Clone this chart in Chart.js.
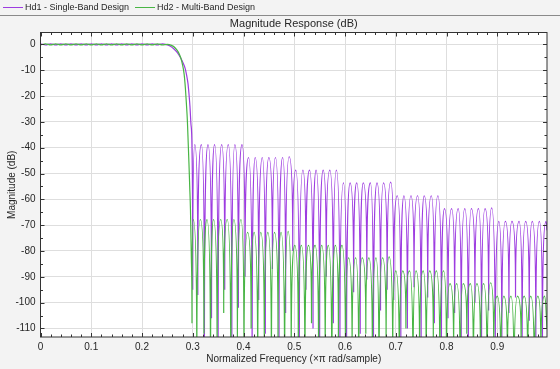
<!DOCTYPE html>
<html>
<head>
<meta charset="utf-8">
<script src="https://cdn.jsdelivr.net/npm/chart.js@4"></script>
<style>
  html, body { margin: 0; padding: 0; background: #f3f3f3; }
  canvas { display: block; }
</style>
</head>
<body>
<canvas id="magChart" width="560" height="369"></canvas>
<script>
// Axis tick labels
const xTicks = [0, 0.1, 0.2, 0.3, 0.4, 0.5, 0.6, 0.7, 0.8, 0.9];
const yTicks = [0, -10, -20, -30, -40, -50, -60, -70, -80, -90, -100, -110];

// Hd1 - passband and transition band
const hd1EdgeFreq = [0, 0.01, 0.02, 0.03, 0.04, 0.05, 0.06, 0.07, 0.08, 0.09, 0.10, 0.11, 0.12,
  0.13, 0.14, 0.15, 0.16, 0.17, 0.18, 0.19, 0.20, 0.21, 0.22, 0.23, 0.24,
  0.248, 0.256, 0.263, 0.270, 0.276, 0.281, 0.285, 0.288, 0.2905, 0.2925, 0.2945, 0.2965, 0.2985];
const hd1EdgeDb = [0.2, -0.2, 0.2, -0.2, 0.2, -0.2, 0.2, -0.2, 0.2, -0.2, 0.2, -0.2, 0.2,
  -0.2, 0.2, -0.2, 0.2, -0.2, 0.2, -0.2, 0.2, -0.2, 0.2, -0.2, 0.2,
  -0.1, -0.7, -1.8, -3.3, -5.2, -7.2, -9.3, -12, -15, -19, -24, -31, -40];

// Hd1 - stopband lobe peaks
const hd1PeakFreq = [
  0.304, 0.317, 0.330, 0.343, 0.357, 0.370, 0.383, 0.397,
  0.410, 0.423, 0.437, 0.450, 0.463, 0.477, 0.490,
  0.503, 0.517, 0.530, 0.543, 0.557, 0.570, 0.583,
  0.597, 0.610, 0.623, 0.636, 0.650, 0.663, 0.676, 0.690,
  0.703, 0.716, 0.730, 0.743, 0.756, 0.770, 0.783,
  0.796, 0.810, 0.823, 0.836, 0.849, 0.863, 0.876, 0.889,
  0.903, 0.916, 0.929, 0.943, 0.956, 0.969, 0.983, 0.996];
const hd1PeakDb = [
  -38.8, -38.8, -38.8, -38.8, -38.8, -38.8, -38.8, -38.8,
  -43.8, -43.8, -43.8, -43.8, -43.8, -43.8, -43.5,
  -48.7, -48.7, -48.7, -48.7, -48.7, -48.7, -48.7,
  -53.6, -53.6, -53.6, -53.6, -53.6, -53.6, -53.6, -53.3,
  -58.6, -58.6, -58.6, -58.6, -58.6, -58.6, -58.6,
  -63.6, -63.6, -63.6, -63.6, -63.6, -63.6, -63.6, -63.3,
  -68.5, -68.5, -68.5, -68.5, -68.5, -68.5, -68.5, -68.5];

// Hd1 - stopband nulls
const hd1NullFreq = [
  0.300, 0.310, 0.323, 0.337, 0.350, 0.363, 0.377, 0.390,
  0.403, 0.417, 0.430, 0.443, 0.457, 0.470, 0.483,
  0.497, 0.510, 0.523, 0.537, 0.550, 0.563, 0.577,
  0.590, 0.603, 0.617, 0.630, 0.643, 0.656, 0.670, 0.683,
  0.696, 0.710, 0.723, 0.736, 0.750, 0.763, 0.776,
  0.790, 0.803, 0.816, 0.829, 0.843, 0.856, 0.869, 0.883,
  0.896, 0.909, 0.923, 0.936, 0.949, 0.963, 0.976, 0.989];
const hd1NullDb = [
  -95, -97, -120, -106, -125, -95, -118, -102,
  -90, -130, -99, -112, -87, -120, -104,
  -80, -125, -95, -110, -118, -90, -108,
  -124, -130, -96, -112, -91, -125, -103, -95,
  -99, -118, -110, -94, -120, -98, -108,
  -116, -106, -104, -118, -125, -100, -122, -103,
  -130, -120, -104, -98, -120, -107, -115, -122];
const hd1End = [0.998, -72];

// Hd2 - passband and transition band
const hd2EdgeFreq = [0, 0.01, 0.02, 0.03, 0.04, 0.05, 0.06, 0.07, 0.08, 0.09, 0.10, 0.11, 0.12,
  0.13, 0.14, 0.15, 0.16, 0.17, 0.18, 0.19, 0.20, 0.21, 0.22, 0.23, 0.24,
  0.250, 0.258, 0.265, 0.271, 0.276, 0.280, 0.283, 0.2855, 0.2875, 0.2895, 0.291, 0.2925, 0.294, 0.2955, 0.297];
const hd2EdgeDb = [-0.2, 0.2, -0.2, 0.2, -0.2, 0.2, -0.2, 0.2, -0.2, 0.2, -0.2, 0.2, -0.2,
  0.2, -0.2, 0.2, -0.2, 0.2, -0.2, 0.2, -0.2, 0.2, -0.2, 0.2, -0.2,
  0.0, -0.4, -1.3, -2.8, -5.0, -8.0, -11.5, -17, -23, -30, -38, -46, -55, -64, -80];

// Hd2 - stopband lobe peaks
const hd2PeakFreq = [
  0.301, 0.315, 0.328, 0.341, 0.355, 0.368, 0.381, 0.395,
  0.408, 0.421, 0.434, 0.448, 0.461, 0.474, 0.488,
  0.501, 0.514, 0.528, 0.541, 0.554, 0.567, 0.581, 0.594,
  0.607, 0.621, 0.634, 0.647, 0.661, 0.674, 0.687,
  0.700, 0.714, 0.727, 0.740, 0.754, 0.767, 0.780, 0.794,
  0.807, 0.820, 0.833, 0.847, 0.860, 0.873, 0.887,
  0.900, 0.913, 0.927, 0.940, 0.953, 0.966, 0.980, 0.993];
const hd2PeakDb = [
  -67.8, -67.8, -67.8, -67.8, -67.8, -67.8, -67.8, -67.8,
  -72.8, -72.8, -72.8, -72.8, -72.8, -72.8, -72.4,
  -77.8, -77.8, -77.8, -77.8, -77.8, -77.8, -77.8, -77.8,
  -82.7, -82.7, -82.7, -82.7, -82.7, -82.7, -82.3,
  -87.7, -87.7, -87.7, -87.7, -87.7, -87.7, -87.7, -87.7,
  -92.6, -92.6, -92.6, -92.6, -92.6, -92.6, -92.3,
  -97.5, -97.5, -97.5, -97.5, -97.5, -97.5, -97.5, -97.5];

// Hd2 - stopband nulls
const hd2NullFreq = [
  0.2985, 0.308, 0.322, 0.335, 0.348, 0.361, 0.375, 0.388,
  0.401, 0.415, 0.428, 0.441, 0.455, 0.468, 0.481,
  0.494, 0.508, 0.521, 0.534, 0.548, 0.561, 0.574, 0.587,
  0.601, 0.614, 0.627, 0.641, 0.654, 0.667, 0.681,
  0.694, 0.707, 0.720, 0.734, 0.747, 0.760, 0.774, 0.787,
  0.800, 0.814, 0.827, 0.840, 0.853, 0.867, 0.880,
  0.893, 0.907, 0.920, 0.933, 0.947, 0.960, 0.973, 0.986];
const hd2NullDb = [
  -108, -130, -112, -135, -125, -104, -140, -118,
  -128, -110, -135, -122, -132, -115, -138,
  -126, -120, -134, -108, -130, -125, -140, -116,
  -130, -122, -136, -112, -128, -140, -118,
  -126, -132, -110, -138, -124, -130, -115, -135,
  -128, -120, -140, -112, -130, -126, -136,
  -118, -132, -124, -140, -116, -128, -135, -122];
const hd2End = [0.998, -110];

const TEXT_COLOR = '#262626';
const FONT = "'Liberation Sans', Arial, Helvetica, sans-serif";
// lobe shape: how far the rounded top reaches and how straight the null flanks rise
const PEAK_ROUND = 0.6;
const NULL_RISE = 0.75;

Chart.defaults.font.family = FONT;
Chart.defaults.color = TEXT_COLOR;

function buildPoints(edgeF, edgeDb, peakF, peakDb, nullF, nullDb, end) {
  const pts = [];
  edgeF.forEach((f, i) => pts.push({ x: f, y: edgeDb[i], kind: 'edge' }));
  peakF.forEach((f, i) => pts.push({ x: f, y: peakDb[i], kind: 'peak' }));
  nullF.forEach((f, i) => pts.push({ x: f, y: nullDb[i], kind: 'null' }));
  pts.push({ x: end[0], y: end[1], kind: 'edge' });
  return pts.sort((a, b) => a.x - b.x);
}

const hd1Points = buildPoints(hd1EdgeFreq, hd1EdgeDb, hd1PeakFreq, hd1PeakDb, hd1NullFreq, hd1NullDb, hd1End);
const hd2Points = buildPoints(hd2EdgeFreq, hd2EdgeDb, hd2PeakFreq, hd2PeakDb, hd2NullFreq, hd2NullDb, hd2End);

// Reshape the curve between lobes: rounded tops at peaks, sharp cusps at nulls
const lobeShape = {
  id: 'lobeShape',
  beforeDatasetsDraw(chart) {
    chart.data.datasets.forEach((ds, di) => {
      const meta = chart.getDatasetMeta(di);
      meta.dataset.updateControlPoints(chart.chartArea, 'x');
      const pts = meta.data;
      for (let i = 1; i < pts.length - 1; i++) {
        const kind = ds.data[i].kind;
        const p = pts[i], a = pts[i - 1], b = pts[i + 1];
        if (kind === 'peak') {
          p.cp1x = p.x - PEAK_ROUND * (p.x - a.x); p.cp1y = p.y;
          p.cp2x = p.x + PEAK_ROUND * (b.x - p.x); p.cp2y = p.y;
        } else if (kind === 'null') {
          p.cp1x = p.x; p.cp1y = p.y + NULL_RISE * (a.y - p.y);
          p.cp2x = p.x; p.cp2y = p.y + NULL_RISE * (b.y - p.y);
        }
      }
    });
  }
};

// Background, frame, inward ticks, title and legend in the fvtool look
const fvtoolDecor = {
  id: 'fvtoolDecor',
  beforeDraw(chart) {
    const { ctx, chartArea: a } = chart;
    ctx.save();
    ctx.fillStyle = '#f3f3f3';
    ctx.fillRect(0, 0, chart.width, chart.height);
    ctx.fillStyle = '#ffffff';
    ctx.fillRect(a.left, a.top, a.right - a.left, a.bottom - a.top);
    ctx.strokeStyle = '#8a8a8a';
    ctx.lineWidth = 1;
    ctx.beginPath();
    ctx.moveTo(0, 15.5);
    ctx.lineTo(chart.width, 15.5);
    ctx.stroke();
    ctx.restore();
  },
  afterDraw(chart) {
    const { ctx, chartArea: a, scales } = chart;
    const xs = scales.x, ys = scales.y;
    ctx.save();
    ctx.strokeStyle = '#333333';
    ctx.lineWidth = 1;

    // ticks on all four sides, pointing in
    ctx.beginPath();
    for (let i = 0; i <= 50; i++) {
      const v = i / 50;
      if (v > xs.max) break;
      const px = Math.round(xs.getPixelForValue(v)) + 0.5;
      const len = i % 5 === 0 ? 4 : 2.5;
      ctx.moveTo(px, a.bottom); ctx.lineTo(px, a.bottom - len);
      ctx.moveTo(px, a.top); ctx.lineTo(px, a.top + len);
    }
    for (let v = 0; v >= ys.min; v -= 5) {
      const py = Math.round(ys.getPixelForValue(v)) + 0.5;
      const len = v % 10 === 0 ? 4 : 2.5;
      ctx.moveTo(a.left, py); ctx.lineTo(a.left + len, py);
      ctx.moveTo(a.right, py); ctx.lineTo(a.right - len, py);
    }
    ctx.stroke();

    // axes box
    ctx.strokeRect(a.left, a.top, a.right - a.left, a.bottom - a.top);

    // title
    ctx.fillStyle = TEXT_COLOR;
    ctx.font = '11px ' + FONT;
    ctx.textAlign = 'center';
    ctx.textBaseline = 'middle';
    ctx.fillText('Magnitude Response (dB)', (a.left + a.right) / 2, 24);

    // legend
    ctx.font = '9px ' + FONT;
    ctx.textAlign = 'left';
    const legendX = [3, 135];
    chart.data.datasets.forEach((ds, i) => {
      const x0 = legendX[i];
      ctx.strokeStyle = ds.borderColor;
      ctx.beginPath();
      ctx.moveTo(x0, 7.5);
      ctx.lineTo(x0 + 20, 7.5);
      ctx.stroke();
      ctx.fillText(ds.label, x0 + 22, 8);
    });
    ctx.restore();
  }
};

new Chart(document.getElementById('magChart'), {
  type: 'line',
  data: {
    datasets: [
      {
        label: 'Hd1 - Single-Band Design',
        data: hd1Points,
        borderColor: '#9d3ce0',
        borderWidth: 1.2,
        pointRadius: 0,
        cubicInterpolationMode: 'monotone',
        order: 1
      },
      {
        label: 'Hd2 - Multi-Band Design',
        data: hd2Points,
        borderColor: '#48b544',
        borderWidth: 1.2,
        pointRadius: 0,
        cubicInterpolationMode: 'monotone',
        order: 0
      }
    ]
  },
  options: {
    responsive: false,
    animation: false,
    events: [],
    layout: { padding: { top: 32.5, right: 13, bottom: 0, left: 0 } },
    scales: {
      x: {
        type: 'linear',
        min: 0,
        max: 0.998,
        afterBuildTicks: (s) => { s.ticks = xTicks.map((v) => ({ value: v })); },
        afterFit: (s) => { s.height = 32; },
        grid: { color: '#dedede', drawTicks: false },
        border: { display: false },
        ticks: {
          padding: 4,
          autoSkip: false,
          maxRotation: 0,
          font: { size: 10 },
          callback: (v) => String(Math.round(v * 10) / 10)
        },
        title: {
          display: true,
          text: 'Normalized Frequency (\u00d7\u03c0 rad/sample)',
          font: { size: 10 },
          padding: { top: 0, bottom: 4 }
        }
      },
      y: {
        type: 'linear',
        min: -113.3,
        max: 4.6,
        afterBuildTicks: (s) => { s.ticks = yTicks.map((v) => ({ value: v })); },
        afterFit: (s) => { s.width = 40.5; },
        grid: { color: '#dedede', drawTicks: false },
        border: { display: false },
        ticks: { padding: 5, font: { size: 10 } },
        title: {
          display: true,
          text: 'Magnitude (dB)',
          font: { size: 10 },
          padding: { top: 6, bottom: 0 }
        }
      }
    },
    plugins: {
      legend: { display: false },
      title: { display: false },
      tooltip: { enabled: false }
    }
  },
  plugins: [lobeShape, fvtoolDecor]
});
</script>
</body>
</html>
